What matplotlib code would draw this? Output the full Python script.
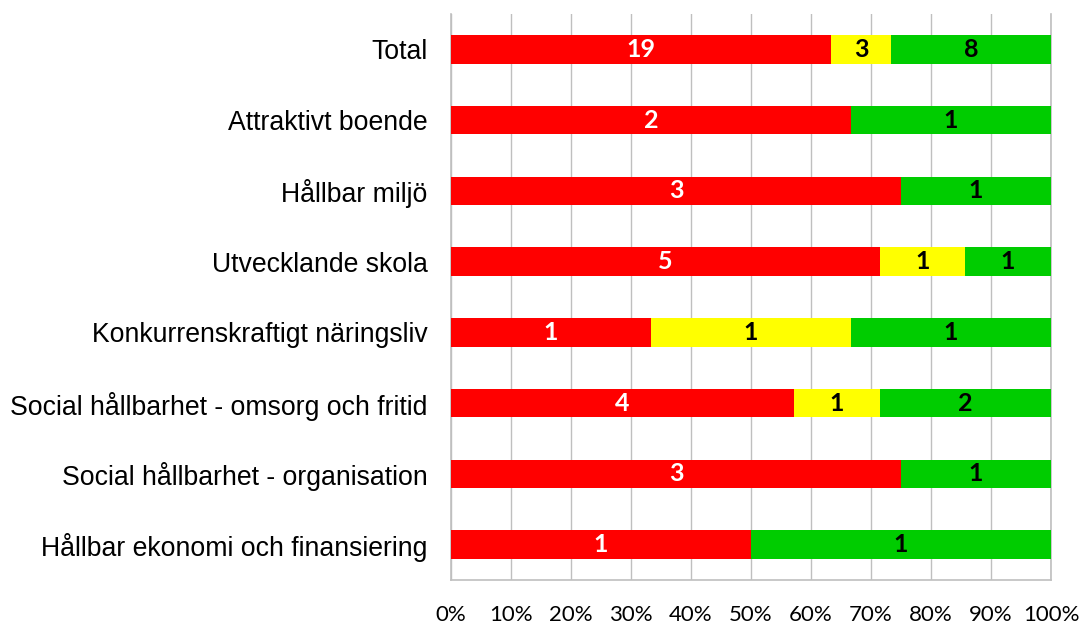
import matplotlib
matplotlib.use("Agg")
import matplotlib.pyplot as plt
import numpy as np

categories = ["Total", "Attraktivt boende", "Hållbar miljö", "Utvecklande skola",
              "Konkurrenskraftigt näringsliv", "Social hållbarhet - omsorg och fritid",
              "Social hållbarhet - organisation", "Hållbar ekonomi och finansiering"]
red_counts = [19, 2, 3, 5, 1, 4, 3, 1]
yellow_counts = [3, 0, 0, 1, 1, 1, 0, 0]
green_counts = [8, 1, 1, 1, 1, 2, 1, 1]
xtick_labels = ["0%", "10%", "20%", "30%", "40%", "50%", "60%", "70%", "80%", "90%", "100%"]

fig = plt.figure(figsize=(10.83, 6.24), dpi=100)
ax = fig.add_axes([451/1083, 1 - 580/624, 600/1083, 566/624])

red = np.array(red_counts, float)
yel = np.array(yellow_counts, float)
grn = np.array(green_counts, float)
tot = red + yel + grn
rp, yp, gp = red / tot, yel / tot, grn / tot

y = np.arange(len(categories))
h = 0.4
series = [(rp, red_counts, "#FF0000", "white"),
          (yp, yellow_counts, "#FFFF00", "black"),
          (gp, green_counts, "#00CC00", "black")]
left = np.zeros(len(categories))
for frac, cnt, col, tcol in series:
    ax.barh(y, frac, left=left, height=h, color=col, zorder=3)
    for i in range(len(categories)):
        if cnt[i] > 0:
            ax.text(left[i] + frac[i] / 2, y[i], str(cnt[i]), ha="center", va="center",
                    color=tcol, fontsize=18, fontweight="bold", family="Lato", zorder=4)
    left = left + frac

ax.set_xlim(0, 1)
ax.set_ylim(len(categories) - 0.5, -0.5)
ax.set_xticks(np.linspace(0, 1, 11))
ax.set_xticklabels(xtick_labels, fontsize=16, family="Lato")
ax.set_yticks(y)
ax.set_yticklabels(categories, fontsize=19.2, family="Liberation Sans")
ax.tick_params(axis="x", length=0, pad=18)
ax.tick_params(axis="y", length=0, pad=17)
ax.grid(axis="x", color="#BFBFBF", linewidth=1, zorder=0)
for s in ["left", "right", "bottom"]:
    ax.spines[s].set_color("#BFBFBF")
    ax.spines[s].set_linewidth(1.2)
ax.spines["top"].set_visible(False)

fig.savefig("out.png", dpi=100)
